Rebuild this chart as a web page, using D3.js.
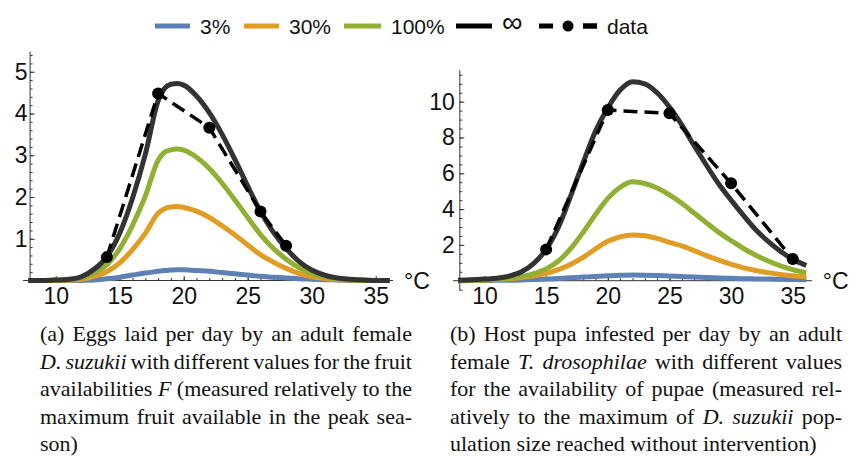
<!DOCTYPE html>
<html>
<head>
<meta charset="utf-8">
<script src="https://cdn.jsdelivr.net/npm/d3@7"></script>
<style>
  html, body { margin: 0; padding: 0; background: #fff; }
  svg { display: block; }
  .tick text { font-family: "Liberation Sans", Arial, sans-serif; font-size: 23px; fill: #111; }
</style>
</head>
<body>
<svg id="chart" width="861" height="456"></svg>
<script>
// ---- Panel (a): eggs laid per day by D. suzukii ----
const tempsA   = [7.85, 9, 10, 11, 12, 13, 14, 15, 16, 17, 18, 18.5, 19, 19.5, 20, 21, 22, 23, 24, 25, 26, 27, 28, 29, 30, 31, 32, 33, 34, 35, 36.1];
const eggs3    = [0, 0, 0, 0, 0, 0.01, 0.04, 0.08, 0.13, 0.18, 0.22, 0.24, 0.25, 0.26, 0.26, 0.24, 0.22, 0.19, 0.16, 0.13, 0.10, 0.08, 0.06, 0.04, 0.03, 0.02, 0.01, 0, 0, 0, 0];
const eggs30   = [0, 0, 0, 0.01, 0.03, 0.10, 0.21, 0.42, 0.74, 1.13, 1.61, 1.72, 1.76, 1.77, 1.75, 1.66, 1.51, 1.31, 1.09, 0.85, 0.62, 0.44, 0.29, 0.17, 0.09, 0.05, 0.02, 0.01, 0, 0, 0];
const eggs100  = [0, 0, 0.01, 0.02, 0.06, 0.18, 0.38, 0.76, 1.32, 2.02, 2.88, 3.07, 3.13, 3.15, 3.12, 2.95, 2.68, 2.33, 1.93, 1.51, 1.10, 0.77, 0.51, 0.31, 0.17, 0.09, 0.04, 0.02, 0.01, 0, 0];
const eggsInf  = [0, 0, 0.01, 0.03, 0.09, 0.27, 0.57, 1.13, 1.97, 3.02, 4.30, 4.60, 4.70, 4.72, 4.68, 4.42, 4.02, 3.50, 2.90, 2.26, 1.65, 1.16, 0.77, 0.46, 0.25, 0.13, 0.06, 0.03, 0.01, 0, 0];
const dataTempA = [14, 18, 22, 26, 28];
const dataEggs  = [0.56, 4.48, 3.66, 1.65, 0.83];

// ---- Panel (b): host pupae infested per day by T. drosophilae ----
const tempsB    = [7.85, 9, 10, 11, 12, 13, 14, 15, 16, 17, 18, 19, 20, 21, 22, 23, 24, 25, 26, 27, 28, 29, 30, 31, 32, 33, 34, 35, 36.1];
const pupae3    = [0, 0.01, 0.01, 0.02, 0.02, 0.04, 0.06, 0.09, 0.12, 0.16, 0.20, 0.24, 0.27, 0.30, 0.32, 0.31, 0.29, 0.26, 0.23, 0.20, 0.18, 0.15, 0.13, 0.11, 0.10, 0.09, 0.08, 0.07, 0.06];
const pupae30   = [0.01, 0.02, 0.04, 0.07, 0.11, 0.18, 0.28, 0.41, 0.62, 0.92, 1.30, 1.78, 2.20, 2.45, 2.55, 2.51, 2.36, 2.14, 1.95, 1.68, 1.40, 1.15, 0.92, 0.72, 0.57, 0.45, 0.35, 0.28, 0.21];
const pupae100  = [0, 0.02, 0.04, 0.08, 0.14, 0.24, 0.40, 0.66, 1.10, 1.80, 2.70, 3.70, 4.60, 5.22, 5.53, 5.43, 5.18, 4.80, 4.33, 3.78, 3.23, 2.70, 2.24, 1.80, 1.42, 1.10, 0.83, 0.62, 0.45];
const pupaeInf  = [0.03, 0.05, 0.09, 0.14, 0.26, 0.50, 0.97, 1.75, 3.00, 4.75, 6.60, 8.35, 9.65, 10.65, 11.12, 11.00, 10.50, 9.70, 8.70, 7.55, 6.45, 5.40, 4.50, 3.65, 2.85, 2.20, 1.65, 1.20, 0.85];
const dataTempB  = [15, 20, 25, 30, 35];
const dataPupae  = [1.75, 9.53, 9.35, 5.44, 1.21];

// ---- shared axis ticks and legend ----
const xMajorTicks = [10, 15, 20, 25, 30, 35];
const xMinorTicks = d3.range(8, 37, 1);
const yMajorTicksA = [1, 2, 3, 4, 5];
const yMinorTicksA = d3.range(0, 5.5, 0.2);
const yMajorTicksB = [2, 4, 6, 8, 10];
const yMinorTicksB = d3.range(-0.5, 11.6, 0.5);
const legendLabels = ["3%", "30%", "100%", "\u221e", "data"];
const seriesColors = ["#5E81B5", "#E19C24", "#8FB032", "#333333"];

const svg = d3.select("#chart");

function drawPanel(cfg) {
  const g = svg.append("g");
  const x = cfg.x, y = cfg.y;

  // axis lines
  g.append("line")
    .attr("x1", x(cfg.axisX[0])).attr("x2", x(cfg.axisX[1]))
    .attr("y1", y(0)).attr("y2", y(0))
    .attr("stroke", "#333").attr("stroke-width", 1);
  g.append("line")
    .attr("x1", x(8)).attr("x2", x(8))
    .attr("y1", y(cfg.axisY[0])).attr("y2", y(cfg.axisY[1]))
    .attr("stroke", "#333").attr("stroke-width", 1);

  // x ticks (pointing into the plot)
  const xMinor = g.append("g").attr("transform", `translate(0,${y(0)})`)
    .call(d3.axisBottom(x).tickValues(xMinorTicks).tickSize(-2.5).tickFormat(""));
  const xMajor = g.append("g").attr("transform", `translate(0,${y(0)})`)
    .call(d3.axisBottom(x).tickValues(xMajorTicks).tickSize(-4.5).tickPadding(7).tickFormat(d3.format("d")));
  // y ticks
  const yMinor = g.append("g").attr("transform", `translate(${x(8)},0)`)
    .call(d3.axisLeft(y).tickValues(cfg.yMinor).tickSize(-2.5).tickFormat(""));
  const yMajor = g.append("g").attr("transform", `translate(${x(8)},0)`)
    .call(d3.axisLeft(y).tickValues(cfg.yMajor).tickSize(-4.5).tickPadding(cfg.yPad).tickFormat(d3.format("d")));
  [xMinor, xMajor, yMinor, yMajor].forEach(a => {
    a.select(".domain").remove();
    a.selectAll(".tick line").attr("stroke", "#333");
  });

  // unit label
  g.append("text")
    .attr("x", x(cfg.axisX[1]) + 11).attr("y", y(0) + 8)
    .attr("font-family", "Liberation Sans, Arial, sans-serif")
    .attr("font-size", 23).attr("fill", "#111")
    .text("\u00b0C");

  // model curves
  const line = d3.line().x(d => x(d[0])).y(d => y(d[1])).curve(d3.curveMonotoneX);
  cfg.series.forEach((vals, i) => {
    g.append("path")
      .datum(cfg.temps.map((t, k) => [t, vals[k]]))
      .attr("d", line)
      .attr("fill", "none")
      .attr("stroke", seriesColors[i])
      .attr("stroke-width", 5)
      .attr("stroke-linejoin", "round")
      .attr("stroke-linecap", "butt");
  });

  // observed data
  const pts = cfg.dataT.map((t, k) => [t, cfg.dataV[k]]);
  g.append("path")
    .datum(pts)
    .attr("d", d3.line().x(d => x(d[0])).y(d => y(d[1])))
    .attr("fill", "none").attr("stroke", "#000")
    .attr("stroke-width", 3.5).attr("stroke-dasharray", "14,7");
  g.selectAll("circle.pt").data(pts).join("circle")
    .attr("class", "pt")
    .attr("cx", d => x(d[0])).attr("cy", d => y(d[1]))
    .attr("r", 6).attr("fill", "#000");
}

drawPanel({
  x: d3.scaleLinear([10, 35], [55.7, 375.7]),
  y: d3.scaleLinear([0, 5], [280.5, 71.75]),
  axisX: [7.45, 36.35], axisY: [-0.06, 5.48],
  yMajor: yMajorTicksA, yMinor: yMinorTicksA, yPad: 2.5,
  temps: tempsA, series: [eggs3, eggs30, eggs100, eggsInf],
  dataT: dataTempA, dataV: dataEggs
});

drawPanel({
  x: d3.scaleLinear([10, 35], [484.5, 792.75]),
  y: d3.scaleLinear([0, 10], [280.7, 101.7]),
  axisX: [7.45, 36.55], axisY: [-0.55, 11.75],
  yMajor: yMajorTicksB, yMinor: yMinorTicksB, yPad: 5,
  temps: tempsB, series: [pupae3, pupae30, pupae100, pupaeInf],
  dataT: dataTempB, dataV: dataPupae
});

// ---- legend ----
const legend = svg.append("g").attr("font-family", "Liberation Sans, Arial, sans-serif").attr("font-size", 21).attr("fill", "#111");
const legendX = [155, 244, 344, 456];
const legendW = [35, 35, 37, 36];
const ly = 26;
legendX.forEach((lx, i) => {
  legend.append("line").attr("x1", lx).attr("x2", lx + legendW[i]).attr("y1", ly).attr("y2", ly)
    .attr("stroke", i === 3 ? "#000" : seriesColors[i]).attr("stroke-width", 5);
  legend.append("text").attr("x", lx + legendW[i] + 10).attr("y", ly + 7.5)
    .attr("font-size", i === 3 ? 29 : null)
    .attr("dy", i === 3 ? "-0.05em" : null)
    .text(legendLabels[i]);
});
legend.append("line").attr("x1", 539).attr("x2", 597).attr("y1", ly).attr("y2", ly)
  .attr("stroke", "#000").attr("stroke-width", 5).attr("stroke-dasharray", "14,30");
legend.append("line").attr("x1", 583).attr("x2", 597).attr("y1", ly).attr("y2", ly)
  .attr("stroke", "#000").attr("stroke-width", 5);
legend.append("circle").attr("cx", 568).attr("cy", ly).attr("r", 5.5).attr("fill", "#000");
legend.append("text").attr("x", 607).attr("y", ly + 7.5).text(legendLabels[4]);

// ---- captions (justified, serif) ----
const captionA = [
  [["(a) Eggs laid per day by an adult female", 0]],
  [["D. suzukii", 1], [" with different values for the fruit", 0]],
  [["availabilities ", 0], ["F", 1], [" (measured relatively to the", 0]],
  [["maximum fruit available in the peak sea-", 0]],
  [["son)", 0]]
];
const captionB = [
  [["(b) Host pupa infested per day by an adult", 0]],
  [["female ", 0], ["T. drosophilae", 1], [" with different values", 0]],
  [["for the availability of pupae (measured rel-", 0]],
  [["atively to the maximum of ", 0], ["D. suzukii", 1], [" pop-", 0]],
  [["ulation size reached without intervention)", 0]]
];

function drawCaption(lines, x0, width, y0, lh, fs) {
  const g = svg.append("g").attr("font-family", "Liberation Serif, 'Times New Roman', serif")
    .attr("font-size", fs).attr("fill", "#111");
  lines.forEach((segs, i) => {
    const words = [];
    segs.forEach(([txt, it]) => {
      txt.split(" ").forEach(w => { if (w.length) words.push({ w, it }); });
    });
    const t = g.append("text").attr("y", y0 + i * lh);
    const spans = words.map(d => t.append("tspan").attr("font-style", d.it ? "italic" : "normal").text(d.w));
    const widths = spans.map(s => s.node().getComputedTextLength());
    const total = d3.sum(widths);
    const last = i === lines.length - 1;
    const gap = last ? fs * 0.25 : Math.max(2, (width - total) / (words.length - 1));
    let cx = x0;
    spans.forEach((s, k) => { s.attr("x", cx); cx += widths[k] + gap; });
  });
}
drawCaption(captionA, 40, 372, 341, 27.5, 22);
drawCaption(captionB, 450, 392, 341, 27.5, 22);
</script>
</body>
</html>
